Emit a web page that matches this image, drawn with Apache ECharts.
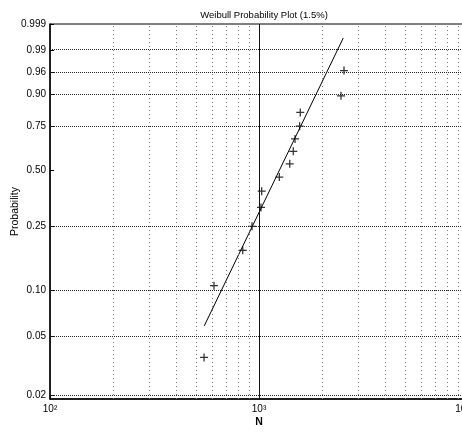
<!DOCTYPE html>
<html>
<head>
<meta charset="utf-8">
<script src="https://cdn.jsdelivr.net/npm/echarts@6/dist/echarts.min.js"></script>
<style>
html,body{margin:0;padding:0;background:#fff;}
#chart{width:462px;height:432px;}
</style>
</head>
<body>
<div id="chart"></div>
<script>
// ---- data ----
const nValues = [546, 609, 836, 926, 1022, 1030, 1251, 1403, 1459, 1487, 1565, 1576, 2468, 2551];
const probValues = [0.036, 0.107, 0.179, 0.25, 0.321, 0.393, 0.464, 0.536, 0.607, 0.679, 0.75, 0.821, 0.893, 0.964];
const fitN = [547, 2531];
const fitProb = [0.0584, 0.9961];
const yTickProbs = [0.02, 0.05, 0.10, 0.25, 0.50, 0.75, 0.90, 0.96, 0.99, 0.999];
const yTickLabels = ['0.02', '0.05', '0.10', '0.25', '0.50', '0.75', '0.90', '0.96', '0.99', '0.999'];
const yGridProbs = [0.02, 0.05, 0.10, 0.25, 0.75, 0.90, 0.96, 0.99];
const xMinorGrid = [200, 300, 400, 500, 600, 700, 800, 900, 2000, 3000, 4000, 5000, 6000, 7000, 8000, 9000];
const xMajorGrid = [1000];
const xTickValues = [100, 1000, 10000];
const xTickLabels = ['10\u00B2', '10\u00B3', '10\u2074'];
const titleText = 'Weibull Probability Plot (1.5%)';
const xName = 'N';
const yName = 'Probability';
const yAxisProbMin = 0.0189;
const yAxisProbMax = 0.999;

// Weibull probability scale transform
function wb(p) { return Math.log(-Math.log(1 - p)); }

const points = nValues.map((n, i) => [n, wb(probValues[i])]);
const fitLine = fitN.map((n, i) => [n, wb(fitProb[i])]);
const yTickW = yTickProbs.map(wb);

const markData = [];
xMinorGrid.forEach(v => markData.push({ xAxis: v, lineStyle: { type: [1, 3], color: '#777', width: 1 } }));
xMajorGrid.forEach(v => markData.push({ xAxis: v, lineStyle: { type: 'solid', color: '#111', width: 1 } }));
yGridProbs.forEach(p => markData.push({ yAxis: wb(p), lineStyle: { type: [1, 1], color: '#222', width: 1 } }));

const chart = echarts.init(document.getElementById('chart'), null, { renderer: 'canvas' });
chart.setOption({
  animation: false,
  backgroundColor: '#fff',
  title: {
    text: titleText,
    left: 259,
    textAlign: 'center',
    top: 5,
    textStyle: { fontFamily: 'Liberation Sans', fontSize: 9.5, fontWeight: 'normal', color: '#000' }
  },
  grid: {
    left: 50, top: 24, width: 418, height: 375,
    outerBoundsMode: 'none',
    containLabel: false,
    show: true, borderColor: '#000', borderWidth: 1, backgroundColor: 'transparent'
  },
  xAxis: {
    type: 'log', logBase: 10, min: 100, max: 10000,
    name: xName, nameLocation: 'middle', nameGap: 18, nameMoveOverlap: false,
    nameTextStyle: { fontFamily: 'Liberation Sans', fontSize: 10.5, fontWeight: 'bold', color: '#000' },
    axisLine: { onZero: false, lineStyle: { color: '#000', width: 1.5 } },
    axisTick: { show: true, inside: true, length: 4, lineStyle: { color: '#000' } },
    axisLabel: {
      fontFamily: 'Liberation Sans', fontSize: 10, color: '#000', margin: 5,
      showMaxLabel: true, showMinLabel: true,
      formatter: function (v) {
        const i = xTickValues.findIndex(t => Math.abs(Math.log10(t) - Math.log10(v)) < 1e-6);
        if (i < 0) return '';
        return i === xTickValues.length - 1 ? '{edge|' + xTickLabels[i] + '}' : xTickLabels[i];
      },
      rich: {
        edge: { fontFamily: 'Liberation Sans', fontSize: 10, color: '#000', padding: [0, 10, 0, 0] }
      }
    },
    splitLine: { show: false },
    minorTick: { show: false }
  },
  yAxis: {
    type: 'value', min: wb(yAxisProbMin), max: wb(yAxisProbMax),
    name: yName, nameLocation: 'middle', nameGap: 29, nameMoveOverlap: false,
    nameTextStyle: { fontFamily: 'Liberation Sans', fontSize: 10.5, color: '#000' },
    axisLine: { show: true, onZero: false, lineStyle: { color: '#000', width: 1.5 } },
    axisTick: { show: true, inside: true, length: 4, customValues: yTickW, lineStyle: { color: '#000' } },
    axisLabel: {
      fontFamily: 'Liberation Sans', fontSize: 10, color: '#000', margin: 4,
      customValues: yTickW,
      formatter: function (v) {
        let best = 0, d = Infinity;
        yTickW.forEach((t, i) => { const dd = Math.abs(t - v); if (dd < d) { d = dd; best = i; } });
        return yTickLabels[best];
      }
    },
    splitLine: { show: false }
  },
  series: [
    {
      type: 'line',
      data: fitLine,
      showSymbol: false,
      symbol: 'none',
      lineStyle: { color: '#000', width: 1 },
      silent: true,
      z: 3,
      markLine: {
        silent: true,
        symbol: ['none', 'none'],
        label: { show: false },
        animation: false,
        data: markData
      }
    },
    {
      type: 'scatter',
      data: points,
      symbol: 'path://M0,4.2H10V5.8H0Z M4.2,0H5.8V10H4.2Z',
      symbolSize: 8,
      itemStyle: { color: '#000' },
      z: 4
    }
  ]
});
</script>
</body>
</html>
